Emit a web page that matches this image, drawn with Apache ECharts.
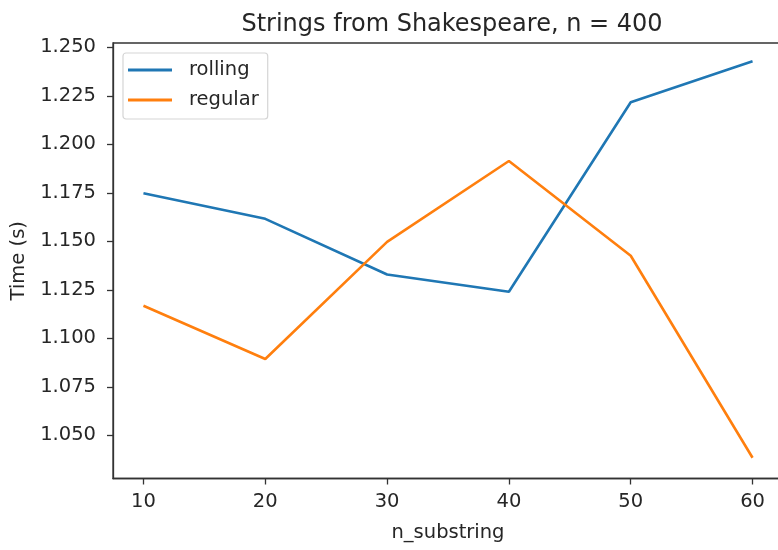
<!DOCTYPE html>
<html>
<head>
<meta charset="utf-8">
<script src="https://cdn.jsdelivr.net/npm/echarts@6/dist/echarts.min.js"></script>
<style>html,body{margin:0;padding:0;background:#fff;}#c{width:778px;height:550px;}</style>
</head>
<body>
<div id="c"></div>
<script>
const categories = [10, 20, 30, 40, 50, 60];
const rolling = [1.1748, 1.1616, 1.1329, 1.1240, 1.2217, 1.2428];
const regular = [1.1168, 1.0894, 1.1497, 1.1914, 1.1426, 1.0385];
const xTicks = [10, 20, 30, 40, 50, 60];
const yTicks = [1.050, 1.075, 1.100, 1.125, 1.150, 1.175, 1.200, 1.225, 1.250];

const font = 'DejaVu Sans';
const txt = '#262626';
const chart = echarts.init(document.getElementById('c'), null, {renderer: 'canvas'});
chart.setOption({
  animation: false,
  backgroundColor: '#fff',
  title: {
    text: 'Strings from Shakespeare, n = 400',
    left: 447, top: 8, textAlign: 'center',
    textStyle: {fontFamily: font, fontSize: 24, fontWeight: 'normal', color: txt}
  },
  grid: {
    left: 113, top: 43, width: 670, height: 435.5,
    outerBoundsMode: 'none', containLabel: false,
    show: true, borderColor: '#333', borderWidth: 1.3, backgroundColor: 'transparent'
  },
  legend: {
    orient: 'vertical', left: 123, top: 53,
    padding: [6, 9, 8, 5],
    backgroundColor: 'rgba(255,255,255,0.8)',
    borderColor: '#d5d5d5', borderWidth: 1.2, borderRadius: 3,
    icon: 'rect', itemWidth: 44, itemHeight: 3, itemGap: 8,
    textStyle: {fontFamily: font, fontSize: 19.5, color: txt, lineHeight: 22, padding: [0, 0, 0, 12]},
    data: ['rolling', 'regular']
  },
  xAxis: {
    type: 'value', min: 7.5, max: 62.5,
    name: 'n_substring', nameLocation: 'middle', nameGap: 44,
    nameTextStyle: {fontFamily: font, fontSize: 19.5, color: txt},
    axisLine: {show: true, lineStyle: {color: '#333', width: 1.3}},
    axisTick: {show: true, length: 6, customValues: xTicks, lineStyle: {color: '#333', width: 1.3}},
    axisLabel: {customValues: xTicks, margin: 13, fontFamily: font, fontSize: 19.5, color: txt},
    splitLine: {show: false}
  },
  yAxis: {
    type: 'value', min: 1.0278, max: 1.2522,
    name: 'Time (s)', nameLocation: 'middle', nameGap: 82, nameRotate: 90,
    nameTextStyle: {fontFamily: font, fontSize: 19.5, color: txt},
    axisLine: {show: true, lineStyle: {color: '#333', width: 1.3}},
    axisTick: {show: true, length: 6, customValues: yTicks, lineStyle: {color: '#333', width: 1.3}},
    axisLabel: {customValues: yTicks, margin: 17, fontFamily: font, fontSize: 19.5, color: txt,
      formatter: v => v.toFixed(3)},
    splitLine: {show: false}
  },
  series: [
    {name: 'rolling', type: 'line', showSymbol: false, symbol: 'none',
     data: categories.map((c, i) => [c, rolling[i]]),
     itemStyle: {color: '#1f77b4'}, lineStyle: {color: '#1f77b4', width: 2.6}},
    {name: 'regular', type: 'line', showSymbol: false, symbol: 'none',
     data: categories.map((c, i) => [c, regular[i]]),
     itemStyle: {color: '#ff7f0e'}, lineStyle: {color: '#ff7f0e', width: 2.6}}
  ]
});
</script>
</body>
</html>
